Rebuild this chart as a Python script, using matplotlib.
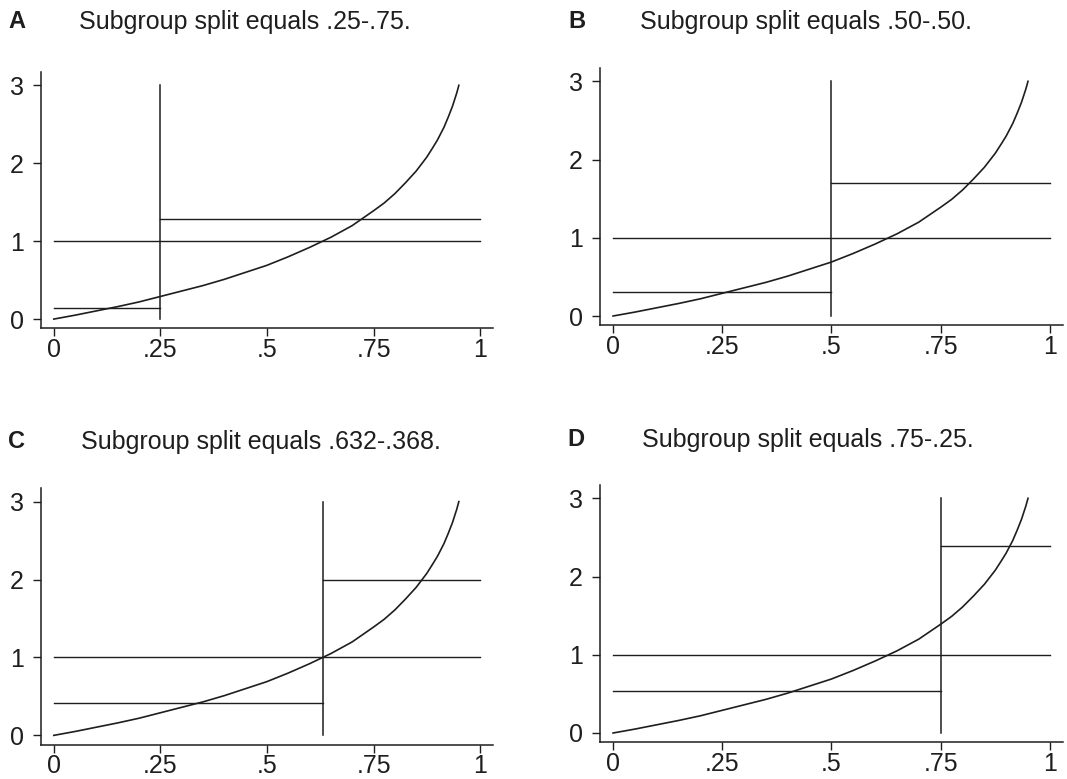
import matplotlib
matplotlib.use('Agg')
import matplotlib.pyplot as plt

plt.rcParams['font.family'] = ['Liberation Sans', 'DejaVu Sans']

# curve (same curve in all four)
curve_x = [0, .05, .10, .15, .20, .25, .30, .35, .40, .45, .50, .55, .60, .65,
           .70, .75, .775, .80, .825, .85, .875, .89, .90, .915, .925, .935, .945, .95]
curve_y = [0, .05, .105, .16, .22, .29, .36, .43, .51, .60, .69, .80, .92, 1.05,
           1.20, 1.39, 1.49, 1.61, 1.75, 1.90, 2.08, 2.21, 2.30, 2.46, 2.59, 2.73, 2.90, 3.00]

letters = ['A', 'B', 'C', 'D']
titles = ['Subgroup split equals .25-.75.', 'Subgroup split equals .50-.50.',
          'Subgroup split equals .632-.368.', 'Subgroup split equals .75-.25.']
splits = [.25, .50, .632, .75]
lower_mean = [0.14, 0.31, 0.42, 0.54]
upper_mean = [1.29, 1.70, 2.00, 2.39]
overall_mean = 1.0

xticks = [0, .25, .5, .75, 1]
xticklabels = ['0', '.25', '.5', '.75', '1']
yticks = [0, 1, 2, 3]

# axes boxes in figure fractions [left, bottom, width, height]
boxes = [[0.0384, 0.5784, 0.4236, 0.3291],
         [0.5623, 0.5823, 0.4339, 0.3304],
         [0.0384, 0.0440, 0.4236, 0.3291],
         [0.5623, 0.0470, 0.4339, 0.3304]]
# title rows (pixel y of text centre) and x of letter / text
title_y = [22, 22, 442, 440]
letter_x = [8, 568, 8, 567]
text_x = [79, 640, 81, 642]

col = '#1e1e1e'
W, H = 1067, 779
fig = plt.figure(figsize=(W / 100, H / 100), dpi=100)

for i in range(4):
    ax = fig.add_axes(boxes[i])
    s = splits[i]
    ax.plot(curve_x, curve_y, color=col, lw=1.2)
    ax.plot([s, s], [0, 3], color=col, lw=1.1)
    ax.plot([0, 1], [overall_mean, overall_mean], color=col, lw=1.0)
    ax.plot([0, s], [lower_mean[i], lower_mean[i]], color=col, lw=1.0)
    ax.plot([s, 1], [upper_mean[i], upper_mean[i]], color=col, lw=1.0)

    ax.set_xlim(-0.03, 1.03)
    ax.set_ylim(-0.12, 3.17)
    ax.spines['top'].set_visible(False)
    ax.spines['right'].set_visible(False)
    for sp in ['left', 'bottom']:
        ax.spines[sp].set_color(col)
        ax.spines[sp].set_linewidth(1.1)
    ax.set_xticks(xticks)
    ax.set_xticklabels(xticklabels)
    ax.set_yticks(yticks)
    ax.tick_params(axis='both', labelsize=18, colors=col, length=5.5, width=1.0)
    ax.tick_params(axis='y', pad=7)
    ax.tick_params(axis='x', pad=1.5)

    fig.text(letter_x[i] / W, 1 - title_y[i] / H, letters[i], fontsize=17,
             fontweight='bold', va='center', ha='left', color=col)
    fig.text(text_x[i] / W, 1 - title_y[i] / H, titles[i], fontsize=18,
             va='center', ha='left', color=col)

fig.savefig('out.png', dpi=100)
